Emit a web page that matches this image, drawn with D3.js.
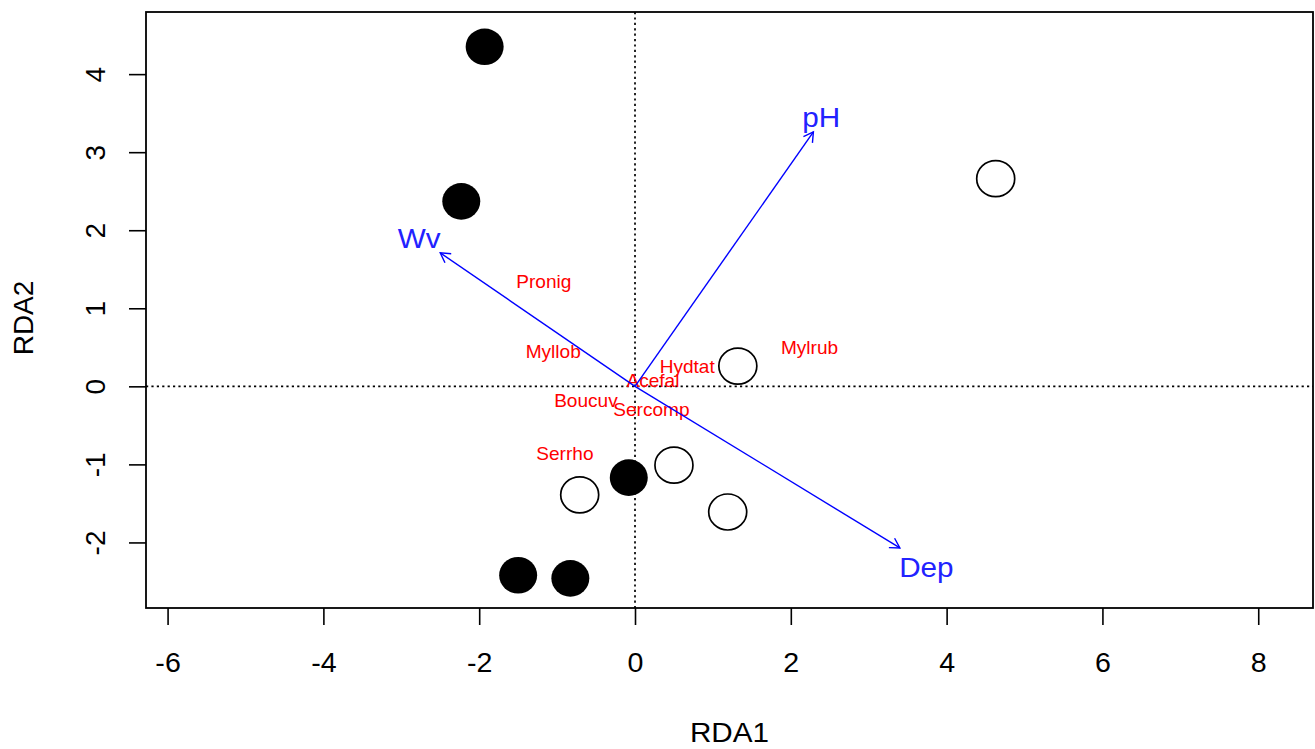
<!DOCTYPE html>
<html>
<head>
<meta charset="utf-8">
<script src="https://cdn.jsdelivr.net/npm/d3@7"></script>
<style>
  body { margin: 0; background: #fff; }
  text { font-family: "Liberation Sans", Arial, sans-serif; }
</style>
</head>
<body>
<div id="my_dataviz"></div>
<script>
// size of the picture and of the plotting box
const width = 1315
const height = 749
const box = { left: 146, top: 12, right: 1313, bottom: 608 }

// axis limits and ticks
const xLimits = [-6.277, 8.703]
const yLimits = [-2.840, 4.796]
const xTicks = [-6, -4, -2, 0, 2, 4, 6, 8]
const yTicks = [-2, -1, 0, 1, 2, 3, 4]

// site scores, filled group and open group
const filledX = [-1.93, -2.23, -0.08, -1.50, -0.83]
const filledY = [4.35, 2.37, -1.17, -2.42, -2.46]
const openX = [4.63, 1.32, 0.50, -0.71, 1.19]
const openY = [2.66, 0.26, -1.01, -1.39, -1.61]

// species labels
const species = ["Pronig", "Myllob", "Hydtat", "Mylrub", "Acefal", "Boucuv", "Sercomp", "Serrho"]
const speciesX = [-1.17, -1.05, 0.67, 2.24, 0.23, -0.63, 0.21, -0.90]
const speciesY = [1.34, 0.44, 0.25, 0.50, 0.07, -0.18, -0.30, -0.86]

// environmental arrows (tips) and where their labels sit
const envNames = ["Wv", "pH", "Dep"]
const envX = [-2.50, 2.29, 3.40]
const envY = [1.71, 3.26, -2.07]
const envLabelX = [-2.77, 2.39, 3.74]
const envLabelY = [1.90, 3.45, -2.32]

const svg = d3.select("#my_dataviz")
    .append("svg")
    .attr("width", width)
    .attr("height", height)

const x = d3.scaleLinear().domain(xLimits).range([box.left, box.right])
const y = d3.scaleLinear().domain(yLimits).range([box.bottom, box.top])

const fontSize = 27
const stretch = "scale(1.06,1)" // the picture is a little wider than tall

// x axis
const xAxis = svg.append("g")
    .attr("transform", `translate(0,${box.bottom})`)
    .call(d3.axisBottom(x).tickValues(xTicks).tickSize(17).tickPadding(28).tickFormat(d3.format("d")))
xAxis.select(".domain").remove()
xAxis.selectAll("line").attr("stroke", "#000").attr("stroke-width", 1.6)
xAxis.selectAll("text").attr("font-size", fontSize).attr("fill", "#000")
    .attr("transform", stretch)
    .style("font-family", '"Liberation Sans", Arial, sans-serif')
    .text(d => d < 0 ? "-" + Math.abs(d) : d)

// y axis, labels turned like R does
const yAxis = svg.append("g")
    .attr("transform", `translate(${box.left},0)`)
    .call(d3.axisLeft(y).tickValues(yTicks).tickSize(17))
yAxis.select(".domain").remove()
yAxis.selectAll("line").attr("stroke", "#000").attr("stroke-width", 1.6)
yAxis.selectAll("text").remove()
yAxis.selectAll(".tick").append("text")
    .attr("transform", "translate(-41,0) rotate(-90)")
    .attr("text-anchor", "middle")
    .attr("font-size", fontSize + 1)
    .attr("fill", "#000")
    .style("font-family", '"Liberation Sans", Arial, sans-serif')
    .text(d => d < 0 ? "-" + Math.abs(d) : d)

// axis titles
svg.append("text")
    .attr("transform", `translate(${(box.left + box.right) / 2},742) ${stretch}`)
    .attr("text-anchor", "middle")
    .attr("font-size", fontSize + 1)
    .text("RDA1")
svg.append("text")
    .attr("transform", `translate(33,318) rotate(-90)`)
    .attr("text-anchor", "middle")
    .attr("font-size", fontSize + 1)
    .text("RDA2")

// dotted zero lines
svg.append("line")
    .attr("x1", box.left).attr("x2", box.right)
    .attr("y1", y(0)).attr("y2", y(0))
    .attr("stroke", "#000").attr("stroke-width", 1.7)
    .attr("stroke-dasharray", "2.2,3.2")
svg.append("line")
    .attr("x1", x(0)).attr("x2", x(0))
    .attr("y1", box.top).attr("y2", box.bottom)
    .attr("stroke", "#000").attr("stroke-width", 1.7)
    .attr("stroke-dasharray", "2.2,3.2")

// sites
const filled = filledX.map((d, i) => ({ x: d, y: filledY[i] }))
const open = openX.map((d, i) => ({ x: d, y: openY[i] }))

svg.append("g")
    .selectAll("ellipse")
    .data(filled)
    .join("ellipse")
    .attr("cx", d => x(d.x))
    .attr("cy", d => y(d.y))
    .attr("rx", 19)
    .attr("ry", 18.3)
    .attr("fill", "#000")

svg.append("g")
    .selectAll("ellipse")
    .data(open)
    .join("ellipse")
    .attr("cx", d => x(d.x))
    .attr("cy", d => y(d.y))
    .attr("rx", 19)
    .attr("ry", 18)
    .attr("fill", "none")
    .attr("stroke", "#000")
    .attr("stroke-width", 1.7)

// species names
svg.append("g")
    .selectAll("text")
    .data(species)
    .join("text")
    .attr("transform", (d, i) => `translate(${x(speciesX[i])},${y(speciesY[i])}) ${stretch}`)
    .attr("dy", "0.36em")
    .attr("text-anchor", "middle")
    .attr("font-size", 18)
    .attr("fill", "#ff0000")
    .text(d => d)

// environmental arrows with open heads
const env = envNames.map((d, i) => ({ name: d, x: envX[i], y: envY[i], lx: envLabelX[i], ly: envLabelY[i] }))
const headLen = 11
const headAngle = Math.PI / 6

const arrows = svg.append("g")
arrows.selectAll("line")
    .data(env)
    .join("line")
    .attr("x1", x(0)).attr("y1", y(0))
    .attr("x2", d => x(d.x)).attr("y2", d => y(d.y))
    .attr("stroke", "#0000ff")
    .attr("stroke-width", 1.4)

arrows.selectAll("path")
    .data(env)
    .join("path")
    .attr("d", function (d) {
        const tx = x(d.x), ty = y(d.y)
        const a = Math.atan2(ty - y(0), tx - x(0))
        const p1 = [tx - headLen * Math.cos(a - headAngle), ty - headLen * Math.sin(a - headAngle)]
        const p2 = [tx - headLen * Math.cos(a + headAngle), ty - headLen * Math.sin(a + headAngle)]
        return `M${p1[0]},${p1[1]}L${tx},${ty}L${p2[0]},${p2[1]}`
    })
    .attr("fill", "none")
    .attr("stroke", "#0000ff")
    .attr("stroke-width", 1.4)

svg.append("g")
    .selectAll("text")
    .data(env)
    .join("text")
    .attr("transform", d => `translate(${x(d.lx)},${y(d.ly)}) ${stretch}`)
    .attr("dy", "0.36em")
    .attr("text-anchor", "middle")
    .attr("font-size", 28)
    .attr("fill", "#2222ff")
    .text(d => d.name)

// frame around the plot
svg.append("rect")
    .attr("x", box.left).attr("y", box.top)
    .attr("width", box.right - box.left)
    .attr("height", box.bottom - box.top)
    .attr("fill", "none")
    .attr("stroke", "#000")
    .attr("stroke-width", 1.8)
</script>
</body>
</html>
